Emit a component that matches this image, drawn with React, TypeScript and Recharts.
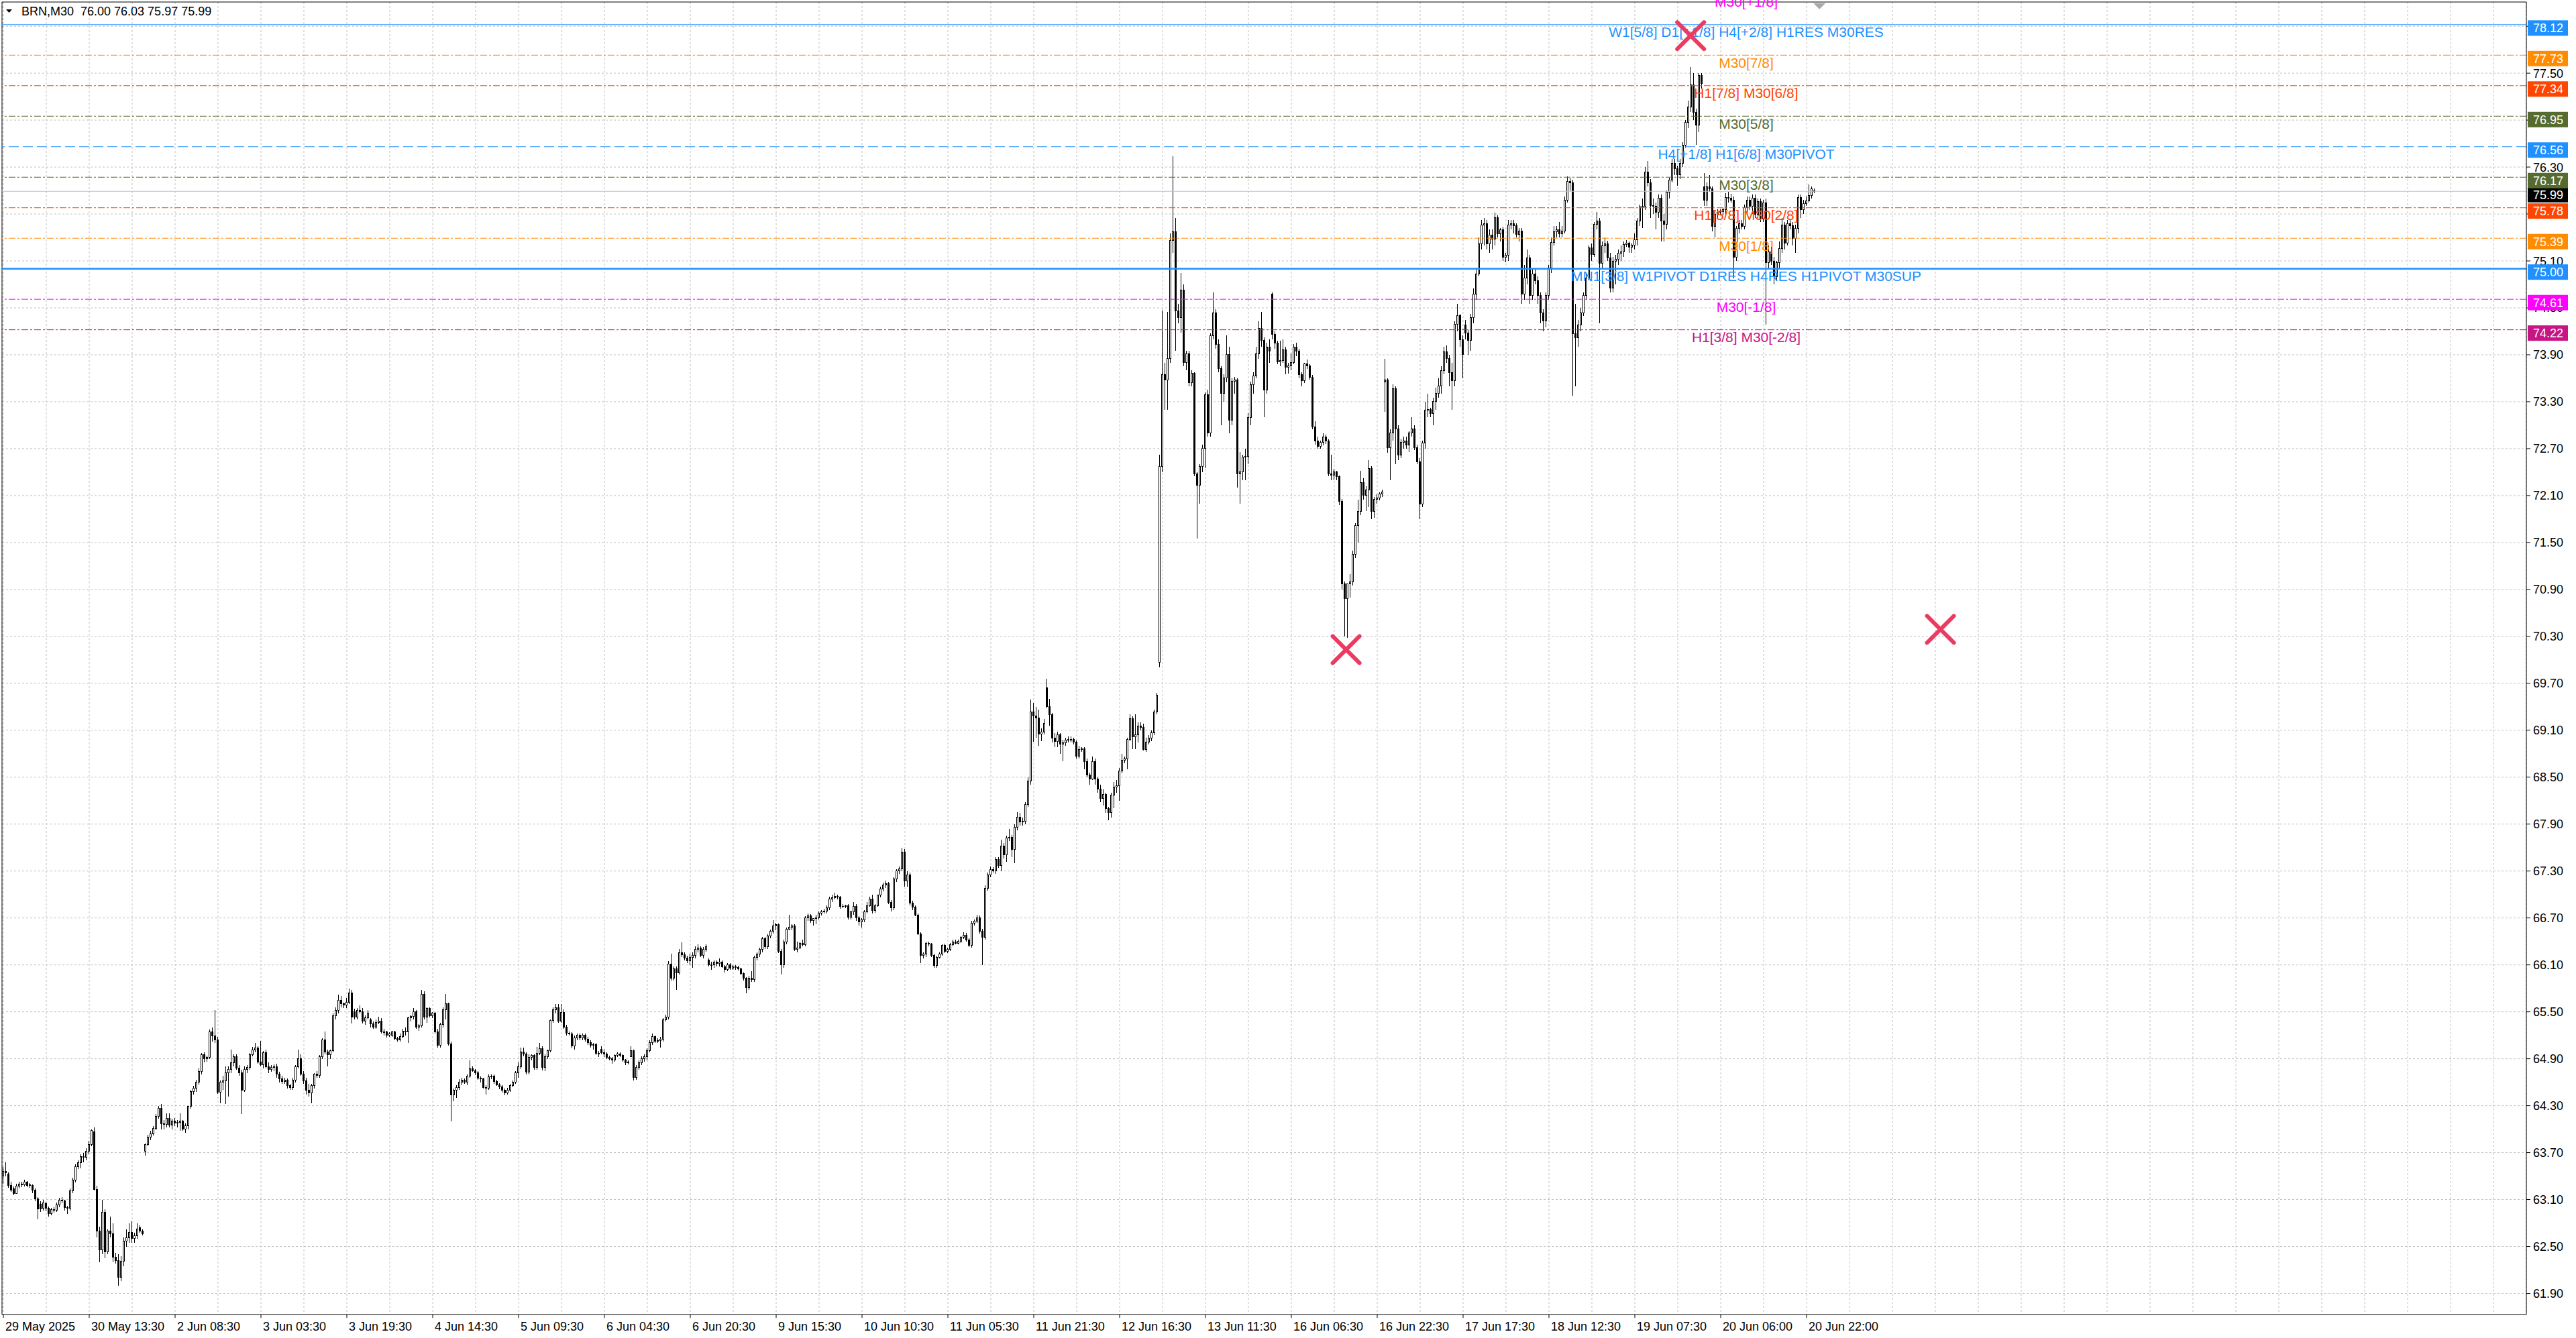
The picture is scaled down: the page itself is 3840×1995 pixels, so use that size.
import React from 'react';
import { ComposedChart, Bar, XAxis, YAxis, CartesianGrid, ReferenceLine, ReferenceDot } from 'recharts';

const CHART_W = 3840;
const CHART_H = 1995;

const SYMBOL = 'BRN,M30';
const LAST_QUOTE = ['76.00', '76.03', '75.97', '75.99'];

const TIME_LABELS = [
  '29 May 2025', '30 May 13:30', '2 Jun 08:30', '3 Jun 03:30', '3 Jun 19:30', '4 Jun 14:30',
  '5 Jun 09:30', '6 Jun 04:30', '6 Jun 20:30', '9 Jun 15:30', '10 Jun 10:30', '11 Jun 05:30',
  '11 Jun 21:30', '12 Jun 16:30', '13 Jun 11:30', '16 Jun 06:30', '16 Jun 22:30', '17 Jun 17:30',
  '18 Jun 12:30', '19 Jun 07:30', '20 Jun 06:00', '20 Jun 22:00',
];
const BARS_PER_LABEL = 32;
const BARS_PER_GRID = 16;

const PRICE_TICKS = [
  61.9, 62.5, 63.1, 63.7, 64.3, 64.9, 65.5, 66.1, 66.7, 67.3, 67.9, 68.5, 69.1, 69.7,
  70.3, 70.9, 71.5, 72.1, 72.7, 73.3, 73.9, 74.5, 75.1, 75.7, 76.3, 76.9, 77.5, 78.1,
];
const Y_MIN = 61.63;
const Y_MAX = 78.41;
const X_MIN = -0.5;
const X_MAX = 940.25;

// M30 candles, [open, high, low, close]
const BARS_29_30_MAY = [
  [63.40, 63.52, 63.30, 63.46], [63.46, 63.58, 63.40, 63.44], [63.43, 63.45, 63.25, 63.28], [63.28, 63.33, 63.20, 63.22],
  [63.24, 63.27, 63.16, 63.18], [63.18, 63.30, 63.17, 63.27], [63.27, 63.33, 63.24, 63.30], [63.30, 63.33, 63.26, 63.29],
  [63.29, 63.35, 63.27, 63.32], [63.32, 63.34, 63.26, 63.28], // 10
  [63.28, 63.31, 63.25, 63.29], [63.28, 63.29, 63.18, 63.22], [63.22, 63.24, 63.08, 63.11], [63.11, 63.13, 62.85, 62.98],
  [63.04, 63.08, 62.94, 62.98], [62.99, 63.10, 62.96, 63.06], [63.05, 63.07, 62.95, 62.99], [62.99, 63.01, 62.88, 62.92],
  [62.92, 62.99, 62.90, 62.97], [62.97, 63.00, 62.93, 62.96], // 20
  [62.96, 63.06, 62.94, 63.03], [63.03, 63.12, 63.00, 63.09], [63.09, 63.13, 63.05, 63.08], [63.08, 63.10, 62.96, 63.00],
  [63.00, 63.02, 62.92, 62.99], [62.99, 63.24, 62.96, 63.21], [63.21, 63.38, 63.18, 63.35], [63.35, 63.55, 63.32, 63.52],
  [63.52, 63.60, 63.49, 63.57], [63.57, 63.68, 63.50, 63.65], // 30
  [63.65, 63.70, 63.58, 63.64], [63.64, 63.76, 63.60, 63.72], [63.72, 63.85, 63.68, 63.80], [63.80, 64.00, 63.78, 63.98],
  [63.97, 64.02, 63.22, 63.23], [63.23, 63.28, 62.62, 62.70], [62.70, 62.75, 62.30, 62.46], [62.46, 63.10, 62.40, 62.94],
  [62.94, 62.98, 62.35, 62.43], [62.43, 62.72, 62.40, 62.70], // 40
  [62.70, 62.88, 62.62, 62.66], [62.66, 62.80, 62.30, 62.36], [62.36, 62.42, 62.28, 62.32], [62.32, 62.40, 62.00, 62.11],
  [62.11, 62.38, 62.06, 62.31], [62.31, 62.62, 62.25, 62.57], [62.57, 62.72, 62.50, 62.61], [62.61, 62.80, 62.55, 62.68],
  [62.68, 62.82, 62.55, 62.60], [62.60, 62.68, 62.55, 62.64], // 50
  [62.64, 62.80, 62.60, 62.72], [62.74, 62.77, 62.68, 62.70], [62.70, 62.72, 62.64, 62.66],
];

const BARS_2_6_JUN = [
  [63.72, 63.82, 63.66, 63.80], [63.80, 63.93, 63.78, 63.90], [63.90, 63.98, 63.86, 63.94], [63.94, 64.04, 63.92, 64.01],
  [64.01, 64.19, 63.99, 64.16], [64.16, 64.30, 64.13, 64.27], [64.27, 64.32, 64.00, 64.07], // 60
  [64.07, 64.12, 64.00, 64.06], [64.06, 64.20, 64.02, 64.14], [64.14, 64.20, 64.02, 64.05], [64.05, 64.13, 64.00, 64.10],
  [64.10, 64.14, 64.04, 64.08], [64.08, 64.12, 64.02, 64.09], [64.09, 64.20, 63.98, 64.10], [64.10, 64.12, 63.98, 64.00],
  [64.00, 64.07, 63.95, 64.04], [64.04, 64.30, 64.00, 64.29], // 70
  [64.29, 64.50, 64.26, 64.48], [64.48, 64.55, 64.44, 64.52], [64.52, 64.63, 64.48, 64.60], [64.60, 64.78, 64.57, 64.74],
  [64.74, 64.97, 64.70, 64.95], [64.95, 64.98, 64.85, 64.90], [64.90, 64.94, 64.86, 64.92], [64.92, 65.27, 64.90, 65.24],
  [65.24, 65.30, 65.12, 65.19], [65.19, 65.52, 65.10, 65.14], // 80
  [65.14, 65.18, 64.45, 64.47], [64.47, 64.62, 64.33, 64.60], [64.60, 64.68, 64.50, 64.62], [64.62, 64.80, 64.32, 64.72],
  [64.72, 64.80, 64.42, 64.76], [64.76, 65.02, 64.72, 64.85], [64.85, 64.96, 64.80, 64.93], [64.93, 64.96, 64.76, 64.78],
  [64.78, 64.82, 64.68, 64.72], [64.72, 64.76, 64.19, 64.50], // 90
  [64.50, 64.80, 64.48, 64.76], [64.76, 64.82, 64.72, 64.79], [64.79, 64.97, 64.76, 64.95], [64.95, 65.05, 64.93, 65.01],
  [65.01, 65.10, 64.98, 65.04], [65.04, 65.06, 64.84, 64.86], [64.86, 65.13, 64.80, 64.82], [64.82, 65.00, 64.78, 64.98],
  [64.98, 65.02, 64.78, 64.80], [64.80, 64.85, 64.72, 64.76], // 100
  [64.76, 64.82, 64.73, 64.79], [64.79, 64.83, 64.74, 64.80], [64.80, 64.84, 64.66, 64.70], [64.70, 64.73, 64.60, 64.64],
  [64.64, 64.68, 64.58, 64.61], [64.61, 64.66, 64.58, 64.63], [64.63, 64.65, 64.52, 64.56], [64.56, 64.58, 64.50, 64.53],
  [64.53, 64.66, 64.50, 64.63], [64.63, 64.82, 64.60, 64.80], // 110
  [64.80, 65.02, 64.78, 64.90], [64.90, 64.96, 64.68, 64.70], [64.70, 64.74, 64.58, 64.62], [64.62, 64.66, 64.44, 64.50],
  [64.50, 64.58, 64.42, 64.46], [64.46, 64.58, 64.33, 64.56], [64.56, 64.72, 64.52, 64.70], [64.70, 64.74, 64.66, 64.69],
  [64.69, 64.95, 64.66, 64.93], [64.93, 65.16, 64.90, 65.14], // 120
  [65.14, 65.25, 64.96, 64.99], [64.99, 65.02, 64.80, 64.95], [64.95, 65.02, 64.90, 65.00], [65.00, 65.48, 64.98, 65.45],
  [65.45, 65.56, 65.40, 65.52], [65.52, 65.72, 65.48, 65.65], [65.65, 65.70, 65.56, 65.60], [65.60, 65.62, 65.55, 65.59],
  [65.59, 65.68, 65.55, 65.62], [65.62, 65.80, 65.60, 65.74], // 130
  [65.74, 65.78, 65.35, 65.43], [65.50, 65.54, 65.40, 65.43], [65.43, 65.55, 65.40, 65.52], [65.52, 65.58, 65.48, 65.50],
  [65.50, 65.55, 65.35, 65.38], [65.38, 65.45, 65.33, 65.42], [65.42, 65.52, 65.40, 65.48], [65.40, 65.42, 65.30, 65.35],
  [65.35, 65.38, 65.28, 65.30], [65.30, 65.40, 65.28, 65.36], // 140
  [65.36, 65.44, 65.34, 65.38], [65.38, 65.42, 65.22, 65.24], [65.24, 65.28, 65.20, 65.24], [65.24, 65.26, 65.17, 65.20],
  [65.20, 65.24, 65.18, 65.22], [65.20, 65.26, 65.18, 65.24], [65.24, 65.26, 65.14, 65.16], [65.16, 65.18, 65.12, 65.14],
  [65.14, 65.22, 65.12, 65.18], [65.18, 65.28, 65.16, 65.25], // 150
  [65.25, 65.30, 65.20, 65.24], [65.24, 65.44, 65.10, 65.42], [65.42, 65.46, 65.38, 65.44], [65.44, 65.55, 65.40, 65.50],
  [65.50, 65.52, 65.28, 65.30], [65.30, 65.34, 65.26, 65.32], [65.32, 65.78, 65.30, 65.72], [65.72, 65.76, 65.40, 65.43],
  [65.43, 65.56, 65.36, 65.54], [65.54, 65.56, 65.43, 65.45], // 160
  [65.45, 65.50, 65.42, 65.48], [65.48, 65.50, 65.22, 65.24], [65.24, 65.28, 65.04, 65.07], [65.07, 65.36, 65.04, 65.34],
  [65.34, 65.56, 65.30, 65.53], [65.53, 65.73, 65.40, 65.60], [65.60, 65.62, 65.07, 65.09], [65.09, 65.12, 64.10, 64.44],
  [64.44, 64.52, 64.36, 64.50], [64.50, 64.56, 64.40, 64.53], // 170
  [64.53, 64.64, 64.50, 64.60], [64.60, 64.66, 64.56, 64.63], [64.63, 64.65, 64.58, 64.60], [64.60, 64.70, 64.56, 64.68],
  [64.68, 64.88, 64.66, 64.77], [64.77, 64.80, 64.73, 64.75], [64.75, 64.77, 64.69, 64.72], [64.72, 64.74, 64.63, 64.65],
  [64.65, 64.67, 64.60, 64.64], [64.64, 64.66, 64.52, 64.53], // 180
  [64.53, 64.56, 64.44, 64.52], [64.52, 64.70, 64.50, 64.67], [64.67, 64.70, 64.64, 64.68], [64.68, 64.70, 64.58, 64.61],
  [64.61, 64.63, 64.55, 64.57], [64.57, 64.59, 64.51, 64.54], [64.54, 64.56, 64.47, 64.50], [64.50, 64.52, 64.43, 64.46],
  [64.46, 64.53, 64.44, 64.50], [64.50, 64.58, 64.48, 64.56], // 190
  [64.56, 64.62, 64.54, 64.60], [64.60, 64.74, 64.58, 64.72], [64.72, 64.85, 64.66, 64.80], [64.80, 65.04, 64.77, 64.99],
  [64.99, 65.04, 64.93, 64.96], [64.96, 64.98, 64.70, 64.73], [64.73, 64.96, 64.70, 64.92], [64.92, 64.96, 64.88, 64.94],
  [64.94, 64.96, 64.76, 64.79], [64.79, 65.05, 64.76, 64.97], // 200
  [64.97, 65.10, 64.95, 65.03], [65.03, 65.06, 64.75, 64.79], [64.79, 64.96, 64.74, 64.93], [64.93, 65.02, 64.90, 65.00],
  [65.00, 65.40, 64.98, 65.39], [65.39, 65.56, 65.36, 65.53], [65.53, 65.60, 65.48, 65.55], [65.55, 65.60, 65.36, 65.38],
  [65.38, 65.60, 65.36, 65.49], [65.49, 65.53, 65.28, 65.30], // 210
  [65.30, 65.33, 65.20, 65.23], [65.23, 65.25, 65.20, 65.22], [65.22, 65.24, 65.03, 65.06], [65.06, 65.20, 65.02, 65.17],
  [65.17, 65.22, 65.14, 65.20], [65.20, 65.22, 65.14, 65.17], [65.17, 65.22, 65.14, 65.20], [65.20, 65.22, 65.12, 65.15],
  [65.15, 65.18, 65.08, 65.11], [65.11, 65.14, 65.04, 65.07], // 220
  [65.07, 65.10, 65.02, 65.08], [65.08, 65.10, 64.95, 64.97], [64.97, 65.00, 64.92, 64.96], [65.02, 65.06, 64.96, 64.98],
  [64.98, 65.02, 64.92, 64.96], [64.96, 64.98, 64.90, 64.92], [64.92, 64.94, 64.88, 64.90], [64.90, 64.92, 64.84, 64.88],
  [64.88, 64.96, 64.86, 64.94], [64.94, 64.98, 64.92, 64.96], // 230
  [64.96, 64.98, 64.92, 64.94], [64.94, 64.96, 64.86, 64.88], [64.88, 64.90, 64.82, 64.85], [64.85, 64.88, 64.83, 64.86],
  [64.93, 65.06, 64.92, 65.00], [65.00, 65.02, 64.62, 64.66], [64.66, 64.82, 64.63, 64.79], [64.79, 64.88, 64.76, 64.85],
  [64.85, 64.93, 64.82, 64.90], [64.90, 64.96, 64.86, 64.93], // 240
  [64.93, 65.03, 64.88, 65.00], [65.00, 65.14, 64.98, 65.11], [65.11, 65.22, 65.08, 65.18], [65.18, 65.20, 65.10, 65.12],
  [65.12, 65.16, 65.10, 65.13], [65.13, 65.18, 65.04, 65.15], [65.15, 65.42, 65.12, 65.40], [65.40, 65.46, 65.38, 65.43],
  [65.43, 66.15, 65.40, 66.11], [66.11, 66.24, 65.90, 65.93], // 250
  [65.93, 66.08, 65.90, 66.05], [66.05, 66.08, 65.78, 66.00], [66.00, 66.30, 65.98, 66.26], [66.26, 66.39, 66.20, 66.23],
  [66.23, 66.26, 66.16, 66.19], [66.19, 66.22, 66.12, 66.15], [66.15, 66.24, 66.10, 66.20], [66.20, 66.26, 66.06, 66.22],
  [66.22, 66.34, 66.18, 66.30], [66.30, 66.36, 66.26, 66.32], // 260
  [66.32, 66.34, 66.20, 66.22], [66.22, 66.33, 66.18, 66.30], [66.30, 66.36, 66.27, 66.33],
];

const BARS_9_13_JUN = [
  [66.16, 66.18, 66.08, 66.10], [66.10, 66.14, 66.04, 66.10], [66.10, 66.16, 66.06, 66.14], [66.14, 66.16, 66.08, 66.12],
  [66.12, 66.18, 66.08, 66.14], [66.14, 66.16, 66.06, 66.08], [66.08, 66.10, 66.00, 66.04], // 270
  [66.04, 66.12, 66.02, 66.10], [66.10, 66.12, 66.04, 66.06], [66.06, 66.10, 66.04, 66.08], [66.08, 66.10, 66.04, 66.07],
  [66.07, 66.09, 66.03, 66.05], [66.05, 66.06, 65.97, 65.99], [65.99, 66.00, 65.90, 65.93], [65.93, 65.94, 65.74, 65.81],
  [65.81, 65.96, 65.78, 65.93], [65.93, 66.02, 65.88, 65.91], // 280
  [65.91, 66.22, 65.88, 66.20], [66.20, 66.26, 66.16, 66.24], [66.24, 66.32, 66.20, 66.30], [66.30, 66.46, 66.26, 66.44],
  [66.44, 66.46, 66.30, 66.33], [66.33, 66.49, 66.30, 66.47], [66.47, 66.55, 66.44, 66.53], [66.53, 66.67, 66.50, 66.60],
  [66.60, 66.64, 66.54, 66.62], [66.62, 66.63, 66.25, 66.27], // 290
  [66.27, 66.30, 65.98, 66.10], [66.10, 66.42, 66.06, 66.39], [66.39, 66.58, 66.36, 66.56], [66.56, 66.74, 66.54, 66.58],
  [66.58, 66.62, 66.54, 66.60], [66.60, 66.62, 66.28, 66.30], [66.30, 66.40, 66.26, 66.32], [66.32, 66.40, 66.30, 66.38],
  [66.38, 66.42, 66.34, 66.36], [66.36, 66.72, 66.34, 66.70], // 300
  [66.70, 66.76, 66.66, 66.73], [66.73, 66.75, 66.64, 66.67], [66.67, 66.70, 66.60, 66.69], [66.69, 66.74, 66.62, 66.70],
  [66.70, 66.78, 66.68, 66.76], [66.76, 66.80, 66.73, 66.78], [66.78, 66.82, 66.76, 66.79], [66.79, 66.86, 66.76, 66.83],
  [66.83, 66.97, 66.80, 66.94], [66.94, 67.00, 66.90, 66.96], // 310
  [66.96, 67.02, 66.94, 66.98], [66.98, 67.00, 66.94, 66.97], [66.97, 66.98, 66.82, 66.85], [66.85, 66.88, 66.83, 66.85],
  [66.85, 66.87, 66.83, 66.86], [66.86, 66.88, 66.68, 66.71], [66.71, 66.79, 66.68, 66.78], [66.78, 66.90, 66.74, 66.85],
  [66.85, 66.88, 66.66, 66.70], [66.70, 66.72, 66.60, 66.65], // 320
  [66.65, 66.70, 66.58, 66.68], [66.68, 66.80, 66.65, 66.78], [66.78, 66.90, 66.76, 66.86], [66.86, 66.97, 66.84, 66.94],
  [66.94, 67.00, 66.76, 66.80], [66.80, 66.88, 66.77, 66.86], [66.86, 67.00, 66.84, 66.99], [66.99, 67.10, 66.96, 67.07],
  [67.07, 67.15, 67.04, 67.12], [67.12, 67.18, 67.08, 67.14], // 330
  [67.14, 67.16, 66.88, 66.90], [66.90, 66.93, 66.78, 66.83], [66.83, 67.22, 66.80, 67.20], [67.20, 67.32, 67.16, 67.30],
  [67.30, 67.36, 67.26, 67.33], [67.33, 67.60, 67.30, 67.54], [67.54, 67.58, 67.10, 67.17], [67.17, 67.30, 67.10, 67.25],
  [67.25, 67.28, 66.86, 66.89], [66.89, 66.92, 66.80, 66.84], // 340
  [66.84, 66.86, 66.72, 66.74], [66.74, 66.76, 66.48, 66.50], [66.50, 66.52, 66.12, 66.22], [66.22, 66.26, 66.18, 66.24],
  [66.24, 66.40, 66.20, 66.38], [66.38, 66.40, 66.34, 66.37], [66.37, 66.38, 66.20, 66.22], [66.22, 66.24, 66.06, 66.09],
  [66.09, 66.22, 66.06, 66.20], [66.20, 66.26, 66.18, 66.24], // 350
  [66.24, 66.36, 66.22, 66.35], [66.35, 66.37, 66.25, 66.27], [66.27, 66.32, 66.25, 66.30], [66.30, 66.38, 66.28, 66.36],
  [66.36, 66.42, 66.34, 66.39], [66.39, 66.42, 66.36, 66.38], [66.38, 66.42, 66.36, 66.40], [66.40, 66.47, 66.38, 66.45],
  [66.45, 66.52, 66.43, 66.48], [66.48, 66.51, 66.40, 66.42], // 360
  [66.42, 66.44, 66.33, 66.35], [66.35, 66.66, 66.32, 66.63], [66.63, 66.68, 66.60, 66.66], [66.66, 66.74, 66.64, 66.70],
  [66.70, 66.73, 66.50, 66.53], [66.53, 66.56, 66.10, 66.45], [66.45, 67.12, 66.42, 67.08], [67.08, 67.28, 67.05, 67.25],
  [67.25, 67.36, 67.22, 67.32], [67.32, 67.35, 67.28, 67.30], // 370
  [67.30, 67.48, 67.26, 67.45], [67.45, 67.48, 67.34, 67.37], [67.37, 67.70, 67.30, 67.62], [67.62, 67.66, 67.46, 67.51],
  [67.51, 67.75, 67.42, 67.72], [67.72, 67.84, 67.68, 67.73], [67.73, 67.76, 67.48, 67.58], [67.58, 67.90, 67.40, 67.86],
  [67.86, 68.05, 67.82, 67.99], [67.99, 68.04, 67.88, 67.93], // 380
  [67.93, 67.98, 67.88, 67.94], [67.94, 68.18, 67.90, 68.15], [68.15, 68.50, 68.12, 68.45], [68.45, 69.49, 68.40, 69.33],
  [69.33, 69.45, 68.95, 69.28], [69.28, 69.40, 69.00, 69.26], [69.26, 69.36, 68.90, 69.05], [69.05, 69.12, 68.96, 69.08],
  [69.08, 69.24, 69.05, 69.19], [69.64, 69.76, 69.38, 69.40], // 390
  [69.40, 69.50, 69.16, 69.30], [69.30, 69.32, 68.94, 69.00], [69.00, 69.06, 68.88, 68.96], [68.96, 69.08, 68.88, 69.04],
  [69.04, 69.06, 68.80, 68.92], [68.92, 68.98, 68.70, 68.94], [68.94, 69.00, 68.90, 68.97], [68.97, 69.02, 68.94, 68.98],
  [68.98, 69.02, 68.94, 68.98], [68.98, 69.00, 68.92, 68.95], // 400
  [68.95, 68.97, 68.74, 68.77], [68.77, 68.90, 68.74, 68.85], [68.85, 68.88, 68.82, 68.86], [68.86, 68.88, 68.60, 68.70],
  [68.70, 68.74, 68.50, 68.53], [68.53, 68.56, 68.40, 68.48], [68.48, 68.76, 68.46, 68.70], [68.70, 68.74, 68.40, 68.48],
  [68.48, 68.50, 68.30, 68.35], [68.35, 68.40, 68.18, 68.23], // 410
  [68.23, 68.34, 68.14, 68.28], [68.28, 68.30, 68.04, 68.10], [68.10, 68.12, 67.95, 68.05], [68.05, 68.30, 67.98, 68.27],
  [68.27, 68.44, 68.10, 68.37], [68.37, 68.46, 68.30, 68.39], [68.39, 68.62, 68.20, 68.58], [68.58, 68.80, 68.55, 68.72],
  [68.72, 68.76, 68.68, 68.73], [68.73, 69.00, 68.60, 68.98], // 420
  [68.98, 69.30, 68.96, 69.25], [69.25, 69.28, 68.86, 69.02], [69.02, 69.30, 68.86, 69.04], [69.04, 69.20, 68.94, 69.15],
  [69.15, 69.20, 69.10, 69.14], [69.14, 69.18, 68.84, 68.85], [68.85, 69.00, 68.82, 68.95], [68.95, 69.04, 68.92, 69.00],
  [69.00, 69.10, 68.96, 69.07], [69.07, 69.36, 69.04, 69.33], // 430
  [69.33, 69.58, 69.30, 69.55], [69.97, 72.62, 69.90, 72.47], [72.47, 74.47, 72.40, 73.65], [73.65, 73.80, 73.20, 73.58],
  [73.58, 74.45, 73.20, 73.85], [73.85, 75.45, 73.80, 75.36], [75.36, 76.44, 75.20, 75.47], [75.47, 75.65, 73.95, 74.46],
  [74.46, 74.55, 74.30, 74.38], [74.38, 74.95, 74.18, 74.73], // 440
  [74.73, 74.80, 73.75, 73.80], [73.80, 73.95, 73.70, 73.91], [73.91, 73.95, 73.50, 73.54], [73.54, 73.70, 73.50, 73.66],
  [73.66, 73.68, 72.35, 72.38], [72.38, 72.40, 71.55, 72.23], [72.23, 72.50, 72.00, 72.47], [72.47, 72.75, 72.40, 72.70],
  [72.70, 73.42, 72.45, 73.39], [73.39, 73.45, 72.85, 72.90], // 450
  [72.90, 74.17, 72.85, 74.14], [74.14, 74.70, 74.10, 74.44], [74.44, 74.48, 73.98, 74.03], [74.03, 74.10, 73.68, 73.72],
  [73.72, 73.75, 73.00, 73.41], [73.41, 73.65, 73.30, 73.60], [73.60, 74.15, 73.55, 73.90], [73.90, 74.00, 72.90, 73.06],
  [73.06, 73.60, 73.00, 73.56], [73.56, 73.62, 73.40, 73.58], // 460
  [73.58, 73.60, 72.20, 72.38], [72.38, 72.66, 72.00, 72.40], [72.40, 72.62, 72.30, 72.59], [72.59, 72.70, 72.30, 72.60],
  [72.60, 73.15, 72.50, 73.10], [73.10, 73.56, 73.00, 73.52], [73.52, 73.68, 73.40, 73.63], [73.63, 74.00, 73.60, 73.91],
  [73.91, 74.33, 73.85, 74.24], [74.24, 74.45, 74.00, 74.08], // 470
  [74.08, 74.12, 73.10, 73.45], [73.45, 74.05, 73.40, 74.00], [74.00, 74.10, 73.80, 73.95],
];

const BARS_16_20_JUN = [
  [74.68, 74.70, 74.10, 74.16], [74.16, 74.20, 73.98, 74.05], [74.05, 74.08, 73.78, 73.81], [73.81, 74.08, 73.75, 73.83],
  [73.83, 74.10, 73.80, 73.96], [73.96, 74.00, 73.65, 73.74], [73.74, 73.80, 73.66, 73.76], // 480
  [73.76, 73.92, 73.70, 73.80], [73.80, 74.04, 73.78, 74.00], [74.00, 74.05, 73.88, 73.95], [73.95, 73.98, 73.60, 73.65],
  [73.65, 73.68, 73.50, 73.57], [73.57, 73.80, 73.54, 73.78], [73.78, 73.84, 73.72, 73.76], [73.76, 73.78, 73.58, 73.61],
  [73.61, 73.64, 72.95, 72.98], [72.98, 73.05, 72.75, 72.80], // 490
  [72.80, 72.85, 72.70, 72.73], [72.73, 72.80, 72.70, 72.78], [72.78, 72.90, 72.74, 72.85], [72.85, 72.88, 72.76, 72.80],
  [72.80, 72.82, 72.35, 72.38], [72.38, 72.62, 72.30, 72.36], [72.36, 72.44, 72.30, 72.40], [72.40, 72.42, 72.30, 72.34],
  [72.34, 72.36, 71.98, 72.03], [72.03, 72.06, 70.90, 70.97], // 500
  [70.97, 71.00, 70.30, 70.78], [70.78, 70.98, 70.28, 70.97], [70.97, 71.10, 70.80, 71.00], [71.00, 71.40, 70.95, 71.35],
  [71.35, 71.75, 71.30, 71.72], [71.72, 72.05, 71.50, 71.90], [71.90, 72.42, 71.85, 72.27], [72.27, 72.32, 72.05, 72.10],
  [72.10, 72.22, 71.90, 72.17], [72.17, 72.55, 71.95, 72.45], // 510
  [72.45, 72.48, 71.80, 71.90], [71.90, 72.08, 71.82, 72.05], [72.05, 72.12, 72.00, 72.07], [72.07, 72.14, 72.04, 72.12],
  [72.12, 72.18, 72.08, 72.15], [73.55, 73.85, 73.17, 73.58], [73.58, 73.60, 72.65, 72.71], [72.71, 72.95, 72.30, 72.90],
  [72.90, 73.52, 72.80, 73.47], [73.47, 73.50, 72.50, 72.95], // 520
  [72.95, 73.00, 72.55, 72.62], [72.62, 72.82, 72.58, 72.78], [72.78, 72.85, 72.70, 72.80], [72.80, 72.85, 72.70, 72.75],
  [72.75, 72.92, 72.66, 72.90], [72.90, 73.10, 72.85, 72.95], [72.95, 73.00, 72.68, 72.71], [72.71, 72.75, 72.50, 72.53],
  [72.53, 72.58, 71.80, 71.99], [71.99, 72.80, 71.95, 72.77], // 530
  [72.77, 73.30, 72.70, 73.19], [73.19, 73.40, 73.10, 73.20], [73.20, 73.22, 73.10, 73.15], [73.15, 73.35, 73.00, 73.30],
  [73.30, 73.48, 73.20, 73.41], [73.41, 73.60, 73.35, 73.50], [73.50, 73.75, 73.40, 73.70], [73.70, 74.00, 73.65, 73.94],
  [73.94, 74.02, 73.80, 73.85], [73.85, 73.90, 73.50, 73.67], // 540
  [73.67, 73.80, 73.20, 73.57], [73.57, 74.33, 73.50, 74.29], [74.29, 74.55, 74.20, 74.40], [74.40, 74.42, 74.00, 74.09],
  [74.09, 74.15, 73.60, 73.90], [74.28, 74.35, 74.10, 74.18], [74.18, 74.22, 73.90, 74.08], [74.08, 74.42, 73.95, 74.38],
  [74.38, 74.75, 74.30, 74.68], [74.68, 75.00, 74.60, 74.93], // 550
  [74.93, 75.40, 74.90, 75.32], [75.32, 75.62, 75.25, 75.56], [75.56, 75.65, 75.30, 75.58], [75.58, 75.62, 75.25, 75.32],
  [75.32, 75.50, 75.20, 75.43], [75.43, 75.50, 75.25, 75.38], [75.38, 75.72, 75.30, 75.65], [75.65, 75.68, 75.40, 75.45],
  [75.45, 75.52, 75.35, 75.50], [75.50, 75.54, 75.10, 75.15], // 560
  [75.15, 75.20, 75.08, 75.17], [75.17, 75.62, 75.10, 75.56], [75.56, 75.62, 75.50, 75.58], [75.58, 75.62, 75.45, 75.55],
  [75.55, 75.58, 75.40, 75.44], [75.44, 75.52, 75.35, 75.48], [75.48, 75.52, 74.55, 74.68], [74.68, 75.05, 74.60, 74.88],
  [74.88, 75.25, 74.80, 75.14], [75.14, 75.18, 74.55, 74.66], // 570
  [74.66, 75.00, 74.60, 74.93], [74.93, 75.00, 74.80, 74.85], [74.85, 74.90, 74.55, 74.66], [74.66, 74.70, 74.30, 74.44],
  [74.44, 74.48, 74.20, 74.33], [74.33, 74.70, 74.25, 74.66], [74.66, 75.05, 74.60, 75.01], [75.01, 75.40, 74.95, 75.34],
  [75.34, 75.55, 75.30, 75.47], [75.47, 75.55, 75.40, 75.50], // 580
  [75.50, 75.60, 75.40, 75.45], [75.45, 75.55, 75.40, 75.48], [75.48, 75.92, 75.45, 75.88], [75.88, 76.18, 75.85, 76.12],
  [76.12, 76.16, 76.00, 76.10], [76.10, 76.14, 73.38, 74.17], [74.17, 74.55, 73.50, 74.12], [74.12, 74.35, 74.00, 74.28],
  [74.28, 74.50, 74.20, 74.44], [74.44, 74.70, 74.40, 74.66], // 590
  [74.66, 74.95, 74.60, 74.88], [74.88, 75.30, 74.85, 75.27], [75.27, 75.32, 75.10, 75.18], [75.18, 75.60, 75.15, 75.57],
  [75.57, 75.73, 75.50, 75.61], [75.61, 75.65, 74.30, 75.07], [75.07, 75.35, 75.00, 75.29], [75.29, 75.40, 75.20, 75.32],
  [75.32, 75.36, 75.10, 75.14], [75.14, 75.20, 74.70, 74.75], // 600
  [74.75, 75.15, 74.70, 75.10], [75.10, 75.18, 74.80, 75.12], [75.12, 75.25, 75.05, 75.20], [75.20, 75.30, 75.10, 75.22],
  [75.22, 75.35, 75.15, 75.31], [75.31, 75.37, 75.28, 75.33], [75.33, 75.35, 75.20, 75.28], [75.28, 75.32, 75.20, 75.30],
  [75.30, 75.45, 75.25, 75.37], [75.37, 75.65, 75.30, 75.61], // 610
  [75.61, 75.82, 75.55, 75.79], [75.79, 75.90, 75.52, 75.80], [75.80, 76.30, 75.75, 76.24], [76.24, 76.38, 76.05, 76.10],
  [76.10, 76.15, 75.65, 75.81], [75.81, 75.90, 75.70, 75.80], [75.80, 75.85, 75.50, 75.72], [75.72, 75.95, 75.65, 75.90],
  [75.90, 75.95, 75.35, 75.61], [75.61, 75.70, 75.35, 75.57], // 620
  [75.57, 76.00, 75.50, 75.98], [75.98, 76.16, 75.90, 76.13], [76.13, 76.40, 76.10, 76.35], [76.35, 76.40, 76.20, 76.28],
  [76.28, 76.32, 76.06, 76.20], [76.20, 76.40, 76.15, 76.35], [76.35, 76.62, 76.30, 76.58], [76.58, 76.90, 76.55, 76.87],
  [76.87, 77.15, 76.80, 77.07], [77.07, 77.58, 77.00, 77.35], // 630
  [77.35, 77.50, 76.90, 77.00], [77.00, 77.05, 76.58, 76.84], [76.84, 77.50, 76.75, 77.47], [77.47, 77.50, 77.30, 77.37],
  [76.05, 76.22, 75.80, 75.88], [75.88, 76.10, 75.80, 76.05], [76.05, 76.20, 75.98, 76.02], [76.02, 76.05, 75.48, 75.54],
  [75.54, 75.75, 75.40, 75.70], [75.70, 75.76, 75.65, 75.72], // 640
  [75.72, 75.76, 75.68, 75.73], [75.73, 75.78, 75.68, 75.76], [75.76, 75.97, 75.70, 75.91], [75.91, 75.98, 75.85, 75.90],
  [75.90, 75.96, 75.85, 75.88], [75.88, 75.92, 74.88, 75.15], [75.15, 75.55, 75.10, 75.52], [75.52, 75.62, 75.45, 75.58],
  [75.58, 75.62, 75.50, 75.54], [75.54, 75.82, 75.50, 75.78], // 650
  [75.78, 75.92, 75.70, 75.88], [75.88, 75.92, 75.75, 75.80], [75.80, 75.95, 75.70, 75.90], [75.90, 75.95, 75.65, 75.70],
  [75.70, 75.90, 75.65, 75.86], [75.86, 75.90, 75.60, 75.64], [75.64, 75.88, 75.60, 75.84], [75.84, 75.90, 74.29, 75.08],
  [75.08, 75.30, 75.00, 75.22], [75.22, 75.28, 75.05, 75.10], // 660
  [75.10, 75.15, 74.80, 74.90], [74.90, 75.10, 74.85, 75.08], [75.08, 75.35, 75.00, 75.26], [75.26, 75.65, 75.20, 75.56],
  [75.56, 75.60, 75.25, 75.33], [75.33, 75.62, 75.30, 75.58], [75.58, 75.62, 75.50, 75.55], [75.55, 75.60, 75.30, 75.39],
  [75.39, 75.56, 75.20, 75.52], [75.52, 75.95, 75.45, 75.91], // 670
  [75.91, 75.95, 75.65, 75.76], [75.76, 75.88, 75.70, 75.83], [75.83, 75.92, 75.80, 75.87], [75.87, 76.08, 75.85, 75.94],
  [75.94, 76.05, 75.90, 76.02], [76.00, 76.03, 75.97, 75.99],
];

// Murrey-math style levels drawn by the indicator
const LEVEL_PRICES = [78.51, 78.12, 77.73, 77.34, 76.95, 76.56, 76.17, 75.78, 75.39, 75.0, 74.61, 74.22];
const LEVEL_NAMES = [
  'M30[+1/8]',
  'W1[5/8] D1[+1/8] H4[+2/8] H1RES M30RES',
  'M30[7/8]',
  'H1[7/8] M30[6/8]',
  'M30[5/8]',
  'H4[+1/8] H1[6/8] M30PIVOT',
  'M30[3/8]',
  'H1[5/8] M30[2/8]',
  'M30[1/8]',
  'MN1[3/8] W1PIVOT D1RES H4RES H1PIVOT M30SUP',
  'M30[-1/8]',
  'H1[3/8] M30[-2/8]',
];
const LEVEL_COLORS = [
  '#FF00FF', '#1E90FF', '#FF8C00', '#FF4500', '#556B2F', '#1E90FF',
  '#556B2F', '#FF4500', '#FF8C00', '#1E90FF', '#FF00FF', '#C71585',
];
const LEVEL_STYLES = [
  'dashdot', 'solid', 'dashdot', 'dashdot', 'dashdot', 'dash',
  'dashdot', 'dashdot', 'dashdot', 'thick', 'dashdot', 'dashdot',
];
const LEVEL_LABEL_BAR = 649.5;

const BID_PRICE = 75.99;

const FRACTAL_BARS = [500.4, 628.8, 721.9];
const FRACTAL_PRICES = [70.13, 77.98, 70.39];
const SHIFT_MARK_BAR = 676.8;

const ALL_BARS = [...BARS_29_30_MAY, ...BARS_2_6_JUN, ...BARS_9_13_JUN, ...BARS_16_20_JUN];

const chartData = ALL_BARS.map(([o, h, l, c], i) => {
  const hi = Math.max(h, o, c);
  const lo = Math.min(l, o, c);
  return { i, o, c, h: hi, l: lo, range: [lo, hi] };
});

const xTicks: number[] = [];
for (let b = 0; b <= X_MAX; b += BARS_PER_GRID) xTicks.push(b);

// price-scale boxes go after the plain ticks so they paint on top of them
const boxPrices: number[] = [BID_PRICE];
const boxColors: string[] = ['#000'];
LEVEL_PRICES.forEach((p, k) => {
  if (p <= Y_MAX) {
    boxPrices.push(p);
    boxColors.push(LEVEL_COLORS[k]);
  }
});
const yTicks = [...PRICE_TICKS, ...boxPrices];

const FONT = '"Liberation Sans", Arial, sans-serif';

const dashFor = (style: string) => {
  if (style === 'dashdot') return '10 3 3 3';
  if (style === 'dash') return '15 6';
  return undefined;
};

const Candle = (props: any) => {
  const { x, y, width, height, payload } = props;
  if (!payload || x == null) return null;
  const { o, h, l, c } = payload;
  const top = Math.min(y, y + height);
  const span = Math.abs(height);
  const k = h > l ? span / (h - l) : 0;
  const py = (p: number) => top + (h - p) * k;
  const cx = Math.floor(x + width / 2) + 0.5;
  const yo = py(o);
  const yc = py(c);
  const bodyTop = Math.min(yo, yc);
  const bodyH = Math.max(Math.abs(yc - yo), 0.5);
  const up = c >= o;
  return (
    <g shapeRendering="crispEdges">
      <line x1={cx} x2={cx} y1={top} y2={top + span} stroke="#000" strokeWidth={1} />
      <rect x={cx - 1} y={bodyTop} width={2} height={bodyH} fill={up ? '#fff' : '#000'} stroke="#000" strokeWidth={1} />
    </g>
  );
};

const TimeTick = (props: any) => {
  const { x, y, payload } = props;
  const v = payload.value;
  if (v % BARS_PER_LABEL !== 0) return null;
  const label = TIME_LABELS[v / BARS_PER_LABEL];
  if (!label) return null;
  return (
    <g>
      <line x1={x} x2={x} y1={y} y2={y + 5} stroke="#000" strokeWidth={1} />
      <text x={x + 3} y={y + 24} fill="#000" fontSize={18} fontFamily={FONT}>
        {label}
      </text>
    </g>
  );
};

const PriceTick = (props: any) => {
  const { x, y, payload } = props;
  const v = payload.value;
  const axisX = x - 10;
  const b = boxPrices.indexOf(v);
  if (b >= 0) {
    const by = y + 5;
    return (
      <g>
        <rect x={axisX + 2} y={by - 11.5} width={60} height={23} fill={boxColors[b]} />
        <text x={axisX + 10} y={by} dy="0.36em" fill="#fff" fontSize={18} fontFamily={FONT}>
          {v.toFixed(2)}
        </text>
      </g>
    );
  }
  return (
    <g>
      <line x1={axisX} x2={axisX + 6} y1={y} y2={y} stroke="#000" strokeWidth={1} />
      <text x={x} y={y} dy="0.36em" fill="#000" fontSize={18} fontFamily={FONT}>
        {v.toFixed(2)}
      </text>
    </g>
  );
};

const levelText = (name: string, color: string) => (props: any) => {
  const { cx, cy } = props;
  if (cx == null) return null;
  return (
    <text x={cx} y={cy + 18.5} textAnchor="middle" fill={color} fontSize={21} fontFamily={FONT}>
      {name}
    </text>
  );
};

const Cross = (props: any) => {
  const { cx, cy } = props;
  if (cx == null) return null;
  return (
    <g stroke="#EC3A61" strokeWidth={6} strokeLinecap="round">
      <line x1={cx - 20} y1={cy - 20} x2={cx + 20} y2={cy + 20} />
      <line x1={cx - 20} y1={cy + 20} x2={cx + 20} y2={cy - 20} />
    </g>
  );
};

const ShiftMark = (props: any) => {
  const { cx, cy } = props;
  if (cx == null) return null;
  return <polygon points={`${cx - 9},${cy - 4} ${cx + 9},${cy - 4} ${cx},${cy + 5}`} fill="#A9A9A9" />;
};

export default function App() {
  return (
    <div style={{ position: 'relative', width: CHART_W, height: CHART_H, background: '#fff' }}>
      <style>{'body{margin:0;background:#fff}'}</style>
      <ComposedChart
        width={CHART_W}
        height={CHART_H}
        data={chartData}
        margin={{ top: 3, right: 0, bottom: 0, left: 3 }}
      >
        <CartesianGrid stroke="#C0C0C0" strokeDasharray="3 3" horizontalValues={PRICE_TICKS} />
        <XAxis
          dataKey="i"
          type="number"
          domain={[X_MIN, X_MAX]}
          allowDataOverflow
          ticks={xTicks}
          interval={0}
          tick={<TimeTick />}
          tickLine={false}
          tickSize={0}
          tickMargin={0}
          axisLine={{ stroke: '#000' }}
          height={35}
        />
        <YAxis
          orientation="right"
          type="number"
          domain={[Y_MIN, Y_MAX]}
          allowDataOverflow
          ticks={yTicks}
          interval={0}
          tick={<PriceTick />}
          tickLine={false}
          tickSize={6}
          tickMargin={4}
          axisLine={{ stroke: '#000' }}
          width={74}
        />
        <ReferenceLine x={X_MIN} stroke="#000" />
        <ReferenceLine y={Y_MAX} stroke="#000" />

        {LEVEL_PRICES.map((p, k) =>
          p <= Y_MAX ? (
            <ReferenceLine
              key={`lvl-${k}`}
              y={p}
              stroke={LEVEL_COLORS[k]}
              strokeWidth={LEVEL_STYLES[k] === 'thick' ? 2.5 : 1}
              strokeDasharray={dashFor(LEVEL_STYLES[k])}
            />
          ) : null,
        )}
        <ReferenceLine y={BID_PRICE} stroke="#C0C0C0" strokeWidth={1} />

        {LEVEL_PRICES.map((p, k) => (
          <ReferenceDot
            key={`txt-${k}`}
            x={LEVEL_LABEL_BAR}
            y={p}
            ifOverflow="visible"
            shape={levelText(LEVEL_NAMES[k], LEVEL_COLORS[k])}
          />
        ))}

        <Bar dataKey={(d: any) => d.range} barSize={3} shape={<Candle />} isAnimationActive={false} />

        {FRACTAL_BARS.map((b, k) => (
          <ReferenceDot key={`fr-${k}`} x={b} y={FRACTAL_PRICES[k]} ifOverflow="visible" shape={<Cross />} />
        ))}
        <ReferenceDot x={SHIFT_MARK_BAR} y={78.36} ifOverflow="visible" shape={<ShiftMark />} />
      </ComposedChart>

      <div
        style={{
          position: 'absolute',
          left: 9,
          top: 7,
          display: 'flex',
          alignItems: 'center',
          font: `18px ${FONT}`,
          color: '#000',
          whiteSpace: 'pre',
          lineHeight: '20px',
        }}
      >
        <svg width={10} height={8} style={{ marginRight: 13 }}>
          <polygon points="0,1 9,1 4.5,6" fill="#000" />
        </svg>
        <span>{`${SYMBOL}  ${LAST_QUOTE.join(' ')}`}</span>
      </div>
    </div>
  );
}
